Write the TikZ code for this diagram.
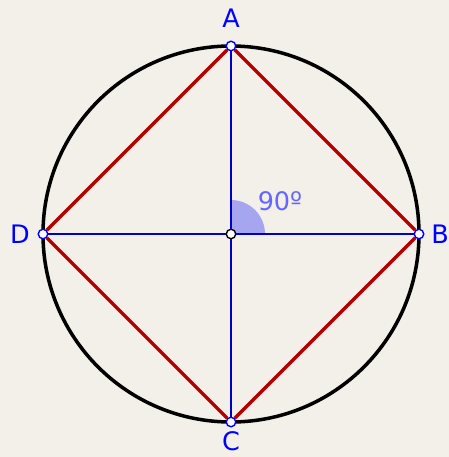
\documentclass[tikz,border=0pt]{standalone}
\usepackage{fontspec}
\setmainfont{DejaVu Sans}
\usetikzlibrary{positioning}
\definecolor{paper}{RGB}{242,240,232}
\definecolor{ptblue}{RGB}{0,0,255}
\definecolor{axisblue}{RGB}{0,0,200}
\definecolor{sqred}{RGB}{180,0,0}
\definecolor{anglefill}{RGB}{166,166,240}
\definecolor{anglelbl}{RGB}{102,102,255}
\begin{document}
\begin{tikzpicture}[
    pt/.style={circle, draw=ptblue, fill=white, line width=0.8pt, inner sep=0pt, minimum size=0.19cm},
    ctr/.style={pt, draw=black},
    lbl/.style={text=ptblue, font=\fontsize{14.5}{16}\selectfont},
    circ/.style={line width=2pt, black},
    axis/.style={line width=1pt, axisblue},
    side/.style={line width=2pt, sqred}
]
\fill[paper] (-4.62,-4.46) rectangle (4.36,4.68);
\useasboundingbox (-4.62,-4.46) rectangle (4.36,4.68);

\draw[circ] (0,0) circle (3.76);
\fill[anglefill] (0,0) -- (0.68,0) arc (0:90:0.68) -- cycle;

\node[pt] (A) at (0,3.76) {};
\node[pt] (B) at (3.76,0) {};
\node[pt] (C) at (0,-3.76) {};
\node[pt] (D) at (-3.76,0) {};
\node[ctr] (O) at (0,0) {};

\draw[axis] (A) -- (O);
\draw[axis] (O) -- (C);
\draw[axis] (D) -- (O);
\draw[axis] (O) -- (B);

\draw[side] (A) -- (B);
\draw[side] (B) -- (C);
\draw[side] (C) -- (D);
\draw[side] (D) -- (A);

\node[lbl] (lA) at (0,4.32) {A};
\node[lbl] (lB) at (4.18,0) {B};
\node[lbl] (lC) at (0,-4.14) {C};
\node[lbl] (lD) at (-4.22,0) {D};
\node[lbl, text=anglelbl] (ang) at (0.98,0.66) {90º};
\end{tikzpicture}
\end{document}
